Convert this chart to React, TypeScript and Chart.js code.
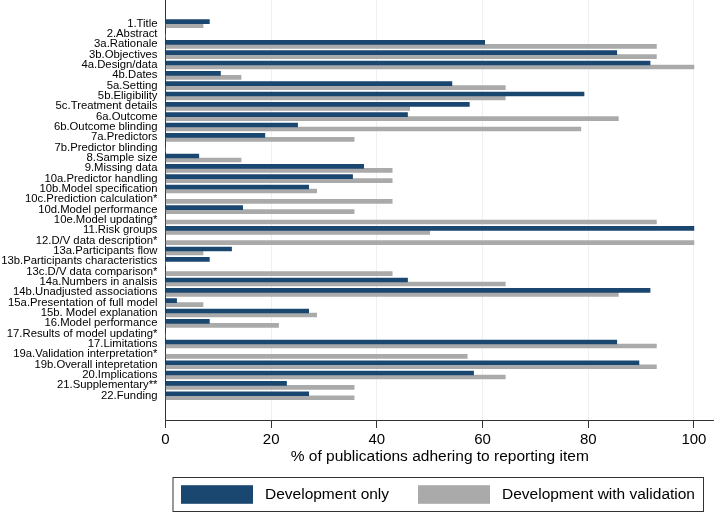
import React, { useEffect, useRef } from "react";
import { Chart, registerables } from "chart.js";

Chart.register(...registerables);

const categories = [
  "1.Title", "2.Abstract", "3a.Rationale", "3b.Objectives", "4a.Design/data", "4b.Dates",
  "5a.Setting", "5b.Eligibility", "5c.Treatment details", "6a.Outcome", "6b.Outcome blinding",
  "7a.Predictors", "7b.Predictor blinding", "8.Sample size", "9.Missing data",
  "10a.Predictor handling", "10b.Model specification", "10c.Prediction calculation*",
  "10d.Model performance", "10e.Model updating*", "11.Risk groups", "12.D/V data description*",
  "13a.Participants flow", "13b.Participants characteristics", "13c.D/V data comparison*",
  "14a.Numbers in analsis", "14b.Unadjusted associations", "15a.Presentation of full model",
  "15b. Model explanation", "16.Model performance", "17.Results of model updating*",
  "17.Limitations", "19a.Validation interpretation*", "19b.Overall intepretation",
  "20.Implications", "21.Supplementary**", "22.Funding",
];

const developmentOnly = [
  8.3, 0, 60.4, 85.4, 91.7, 10.4, 54.2, 79.2, 57.5, 45.8, 25.0, 18.8, 0, 6.3, 37.5, 35.4, 27.1,
  0, 14.6, 0, 100, 0, 12.5, 8.3, 0, 45.8, 91.7, 2.1, 27.1, 8.3, 0, 85.4, 0, 89.6, 58.3, 22.9, 27.1,
];

const developmentWithValidation = [
  7.1, 0, 92.9, 92.9, 100, 14.3, 64.3, 64.3, 46.2, 85.7, 78.6, 35.7, 0, 14.3, 42.9, 42.9, 28.6,
  42.9, 35.7, 92.9, 50, 100, 7.1, 0, 42.9, 64.3, 85.7, 7.1, 28.6, 21.4, 0, 92.9, 57.1, 92.9, 64.3,
  35.7, 35.7,
];

const xTickValues = [0, 20, 40, 60, 80, 100];
const seriesNames = ["Development only", "Development with validation"];
const seriesColors = ["#1a476f", "#aaaaaa"];
const xTitle = "% of publications adhering to reporting item";

const FONT = "'Liberation Sans', Arial, sans-serif";

const boxedLegend = {
  id: "boxedLegend",
  afterDraw(chart: any) {
    const ctx = chart.ctx;
    const area = chart.chartArea;
    const left = area.left + 7.5;
    const right = chart.width - 10.5;
    const top = chart.height - 35.5;
    const bottom = chart.height - 1.5;
    ctx.save();
    ctx.strokeStyle = "#333";
    ctx.lineWidth = 1;
    ctx.strokeRect(left, top, right - left, bottom - top);
    const offsets = [8, 245];
    ctx.font = `15.5px ${FONT}`;
    ctx.textBaseline = "middle";
    ctx.textAlign = "left";
    chart.data.datasets.forEach((ds: any, i: number) => {
      const x = left + offsets[i];
      const cy = (top + bottom) / 2;
      ctx.fillStyle = ds.backgroundColor;
      ctx.fillRect(x, cy - 9.3, 72, 18.6);
      ctx.fillStyle = "#000";
      ctx.fillText(ds.label, x + 84, cy + 0.5);
    });
    ctx.restore();
  },
};

export default function App() {
  const ref = useRef<HTMLCanvasElement | null>(null);

  useEffect(() => {
    if (!ref.current) return;
    const chart = new Chart(ref.current, {
      type: "bar",
      data: {
        datasets: [
          {
            label: seriesNames[0],
            data: developmentOnly.map((v, i) => ({ x: v, y: i })),
            backgroundColor: seriesColors[0],
            barThickness: 4,
          },
          {
            label: seriesNames[1],
            data: developmentWithValidation.map((v, i) => ({ x: v, y: i })),
            backgroundColor: seriesColors[1],
            barThickness: 4,
          },
        ],
      },
      plugins: [boxedLegend],
      options: {
        animation: false,
        responsive: false,
        indexAxis: "y",
        layout: { padding: { left: 0, right: 0, top: 0, bottom: 43 } },
        plugins: {
          legend: { display: false },
          tooltip: { enabled: false },
        },
        scales: {
          x: {
            type: "linear",
            min: 0,
            max: 103.8,
            afterBuildTicks: (scale: any) => {
              scale.ticks = xTickValues.map((v) => ({ value: v }));
            },
            afterFit: (scale: any) => {
              scale.paddingLeft = 0;
              scale.paddingRight = 0;
            },
            grid: {
              color: "#edf1f5",
              tickColor: "#333",
              tickLength: 8,
              drawOnChartArea: true,
            },
            border: { display: true, color: "#333", width: 1 },
            ticks: {
              color: "#000",
              font: { family: FONT, size: 15, lineHeight: 1 },
              padding: 4.5,
              maxRotation: 0,
            },
            title: {
              display: true,
              text: xTitle,
              color: "#000",
              font: { family: FONT, size: 15.5, lineHeight: 1 },
              padding: { top: -3.5, bottom: 6 },
            },
          },
          y: {
            type: "linear",
            reverse: true,
            offset: false,
            min: -2.29,
            max: 38.35,
            afterBuildTicks: (scale: any) => {
              scale.ticks = categories.map((_, i) => ({ value: i }));
            },
            afterFit: (scale: any) => {
              scale.width = 165.5;
              scale.paddingTop = 0;
              scale.paddingBottom = 0;
            },
            grid: { display: false, drawTicks: false, offset: false },
            border: { display: true, color: "#333", width: 1 },
            ticks: {
              autoSkip: false,
              color: "#000",
              font: { family: FONT, size: 11.3 },
              padding: 8,
              callback: (value: any) => categories[value as number] ?? "",
            },
          },
        },
      },
    } as any);
    return () => chart.destroy();
  }, []);

  return (
    <div style={{ position: "absolute", left: 0, top: 0, width: 714, height: 513, background: "#fff" }}>
      <canvas ref={ref} width={714} height={513} style={{ width: 714, height: 513 }} />
    </div>
  );
}
